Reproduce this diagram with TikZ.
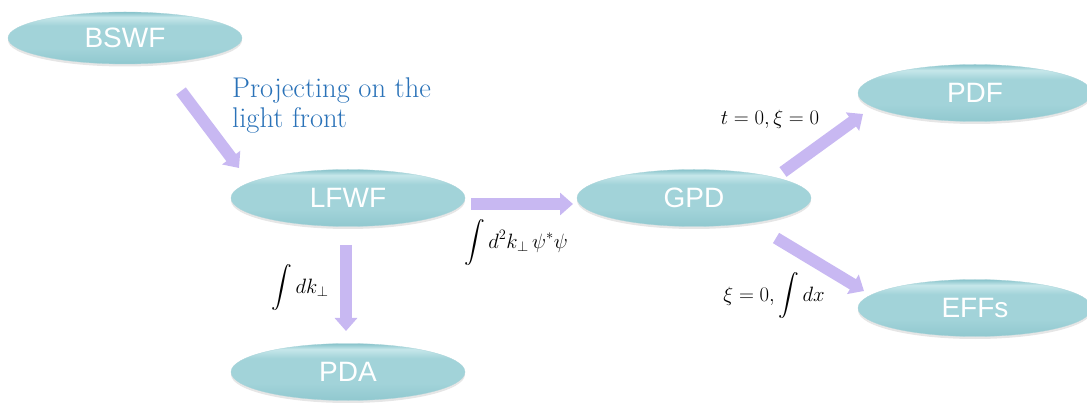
\documentclass[tikz,border=0pt]{standalone}
\usepackage{fontspec}
\setsansfont{Liberation Sans}
\usepackage{amsmath}
\usetikzlibrary{shapes.geometric,arrows.meta,shadows}
\definecolor{ellmid}{HTML}{A2D3D9}
\definecolor{elltop}{HTML}{C6E7EA}
\definecolor{ellrim}{HTML}{86C2CA}
\definecolor{ellbot}{HTML}{90C8CF}
\definecolor{arrowfill}{HTML}{C8B8F2}
\definecolor{labelblue}{HTML}{2A72B8}
\pgfdeclareverticalshading{ellshade}{100bp}{color(0bp)=(ellbot); color(25bp)=(ellbot); color(40bp)=(ellmid); color(62bp)=(ellmid); color(70bp)=(elltop); color(75bp)=(ellrim); color(100bp)=(ellrim)}
\tikzset{
  ell/.style={ellipse, minimum width=234pt, minimum height=57pt, inner sep=0pt,
    shading=ellshade,
    draw=ellrim!70!white, line width=0.3pt,
    drop shadow={opacity=0.2, shadow xshift=0pt, shadow yshift=-2.5pt},
    text=white, font=\sffamily\fontsize{28}{32}\selectfont},
  fatarrow/.style={draw=arrowfill, line width=12pt,
    -{Triangle[width=22pt,length=13pt,fill=arrowfill]}},
  mathlabel/.style={inner sep=0pt, font=\fontsize{21}{25}\selectfont}
}
\begin{document}
\begin{tikzpicture}[x=1pt,y=-1pt]
\useasboundingbox (0,0) rectangle (1087,403);
% nodes
\node[ell, minimum height=52pt] (bswf) at (125,38) {BSWF};
\node[ell] (lfwf) at (348,198) {LFWF};
\node[ell] (pda) at (348,372) {PDA};
\node[ell] (gpd) at (694,198) {GPD};
\node[ell] (pdf) at (975,93) {PDF};
\node[ell] (effs) at (975,308) {EFFs};
% arrow end points
\coordinate (a1s) at (181,91);  \coordinate (a1e) at (239,168);
\coordinate (a2s) at (471,204); \coordinate (a2e) at (573,204);
\coordinate (a3s) at (346,245); \coordinate (a3e) at (346,331);
\coordinate (a4s) at (783,172); \coordinate (a4e) at (863,114);
\coordinate (a5s) at (776,238); \coordinate (a5e) at (864,291);
\draw[fatarrow] (a1s) -- (a1e);
\draw[fatarrow] (a2s) -- (a2e);
\draw[fatarrow] (a3s) -- (a3e);
\draw[fatarrow] (a4s) -- (a4e);
\draw[fatarrow] (a5s) -- (a5e);
% labels
\node[anchor=north west, align=left, inner sep=0pt, text=labelblue,
  font=\rmfamily\fontsize{28.5}{30}\selectfont] (proj) at (232,78)
  {Projecting on the\\light front};
\node[mathlabel] (l1) at (516,243) {$\displaystyle\int d^2k_\perp\,\psi^*\psi$};
\node[mathlabel] (l2) at (300,288) {$\displaystyle\int dk_\perp$};
\node[mathlabel] (l3) at (770,119) {$t=0,\xi=0$};
\node[mathlabel] (l4) at (774,296) {$\xi=0,\displaystyle\int dx$};
\end{tikzpicture}
\end{document}
